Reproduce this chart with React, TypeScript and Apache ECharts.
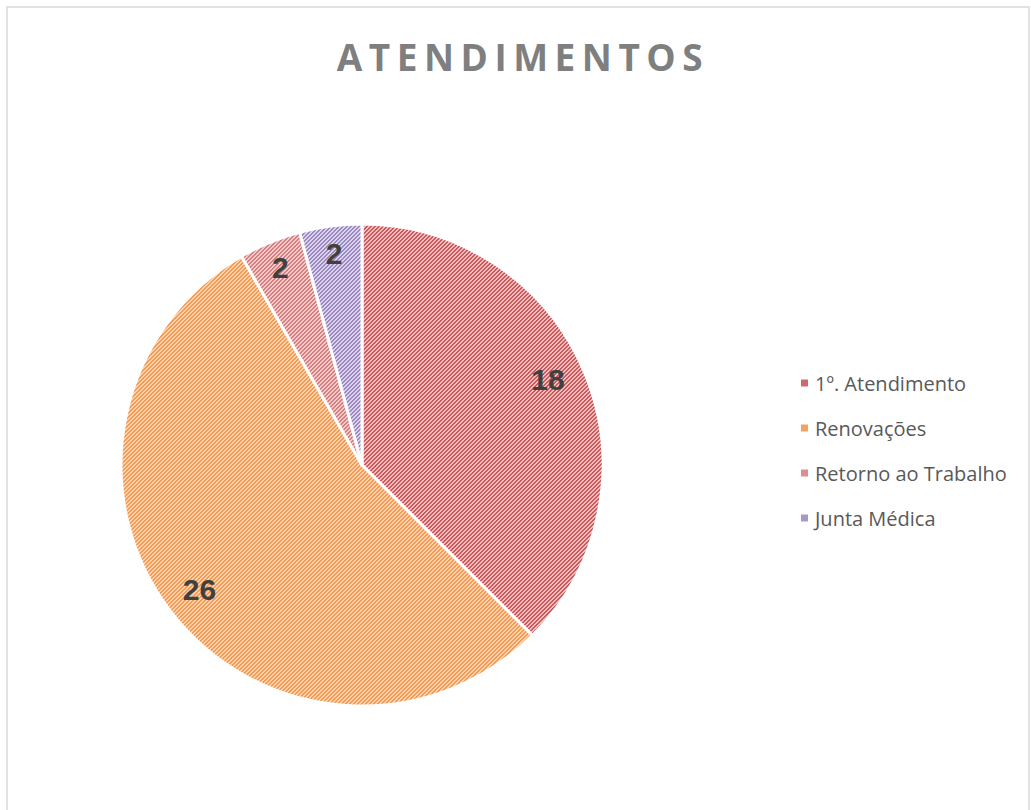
import React, { useEffect, useRef } from "react";
import * as echarts from "echarts";

const categories = ["1º. Atendimento", "Renovações", "Retorno ao Trabalho", "Junta Médica"];
const values = [18, 26, 2, 2];
const titleText = "ATENDIMENTOS";

const darkColors = ["#c85a5e", "#f39a55", "#d47f80", "#9c88c0"];
const lightColors = ["#f1bdbc", "#fbd2ab", "#f3c9c9", "#dcd3ec"];
const legendColors = ["#cf6a6c", "#f6a25e", "#dc8f90", "#a897c9"];

function makePattern(dark: string, light: string) {
  const c = document.createElement("canvas");
  c.width = 8;
  c.height = 8;
  const ctx = c.getContext("2d")!;
  for (let x = 0; x < 8; x++) {
    for (let y = 0; y < 8; y++) {
      ctx.fillStyle = (x + y) % 4 < 2 ? dark : light;
      ctx.fillRect(x, y, 1, 1);
    }
  }
  return { image: c, repeat: "repeat" as const };
}

export default function App() {
  const ref = useRef<HTMLDivElement>(null);
  useEffect(() => {
    if (!ref.current) return;
    const chart = echarts.init(ref.current, undefined, { renderer: "svg" });
    const cx = 362;
    const cy = 465;
    const R = 241;
    const total = values.reduce((a, b) => a + b, 0);
    const mids: number[] = [];
    let acc = 0;
    values.forEach((v) => {
      mids.push(((acc + v / 2) / total) * Math.PI * 2);
      acc += v;
    });
    chart.setOption({
      animation: false,
      backgroundColor: "#ffffff",
      title: {
        text: titleText,
        left: 518,
        textAlign: "center",
        top: 33,
        textStyle: {
          fontFamily: "Open Sans",
          fontWeight: "bold",
          fontSize: 37,
          color: "#7f7f7f",
        },
      },
      legend: {
        orient: "vertical",
        left: 794,
        top: 368,
        itemWidth: 9,
        itemHeight: 9,
        itemGap: 25,
        icon: "rect",
        textStyle: {
          fontFamily: "Open Sans",
          fontSize: 20,
          color: "#595959",
          padding: [0, 0, 0, 1],
        },
        data: categories.map((name, i) => ({ name, itemStyle: { color: legendColors[i] } })),
      },
      graphic: [
        {
          type: "rect",
          shape: { x: 7, y: 7, width: 1022, height: 830 },
          style: { fill: "none", stroke: "#d9d9d9", lineWidth: 1.5 },
          silent: true,
        },
      ],
      series: [
        {
          type: "pie",
          center: [cx, cy],
          radius: [0, R],
          startAngle: 90,
          clockwise: true,
          itemStyle: { borderColor: "#ffffff", borderWidth: 3 },
          emphasis: { disabled: true },
          label: {
            show: true,
            position: "inside",
            formatter: "{c}",
            fontFamily: "Liberation Sans",
            fontWeight: "bold",
            fontSize: 30,
            color: "#404040",
          },
          labelLine: { show: false },
          labelLayout: (params: any) => {
            const i = params.dataIndex;
            const a = mids[i] - (i === 0 ? 0.04 : 0);
            const k = values[i] > 5 ? 0.85 : 0.885;
            return { x: cx + R * k * Math.sin(a), y: cy - R * k * Math.cos(a) };
          },
          data: categories.map((name, i) => ({
            name,
            value: values[i],
            itemStyle: { color: makePattern(darkColors[i], lightColors[i]) },
          })),
        },
      ],
    });
    // widen the title's letter spacing as in the reference
    const texts = ref.current.querySelectorAll("text");
    texts.forEach((t) => {
      if (t.textContent === titleText) {
        t.setAttribute("letter-spacing", "6.5");
      }
    });
    return () => chart.dispose();
  }, []);
  return (
    <div
      ref={ref}
      style={{ position: "absolute", left: 0, top: 0, width: 1031, height: 810, background: "#fff" }}
    />
  );
}
